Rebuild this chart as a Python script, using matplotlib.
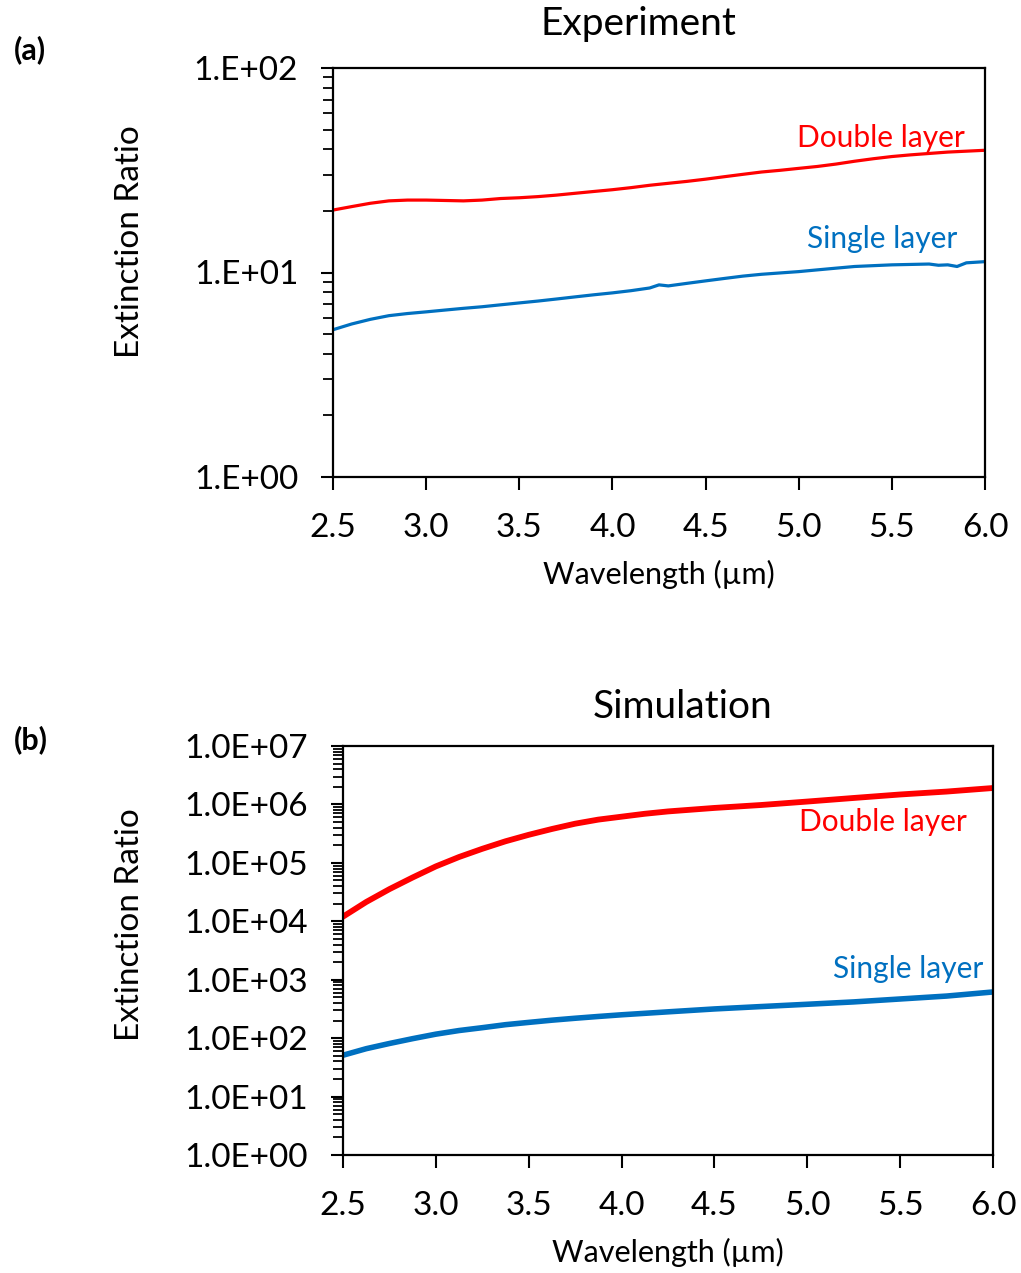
import numpy as np
import matplotlib
matplotlib.use("Agg")
import matplotlib.pyplot as plt
from matplotlib.ticker import LogLocator, FixedLocator, FuncFormatter, NullFormatter

plt.rcParams['font.family'] = ['Lato', 'DejaVu Sans']

RED = '#FF0000'
BLUE = '#0070C0'

# (a) measured extinction ratio
wl_exp = [2.5, 2.6, 2.7, 2.8, 2.9, 3.0, 3.1, 3.2, 3.3, 3.4, 3.5, 3.6, 3.7, 3.8, 3.9,
          4.0, 4.1, 4.2, 4.25, 4.3, 4.4, 4.5, 4.6, 4.7, 4.8, 4.9, 5.0, 5.1, 5.2, 5.3,
          5.4, 5.5, 5.6, 5.7, 5.75, 5.8, 5.85, 5.9, 6.0]
double_exp = [20.2, 21.0, 21.8, 22.4, 22.6, 22.6, 22.5, 22.4, 22.6, 23.0, 23.2, 23.5, 23.9, 24.4, 24.9,
              25.4, 26.0, 26.7, 27.0, 27.3, 27.9, 28.6, 29.4, 30.2, 31.0, 31.6, 32.3, 33.0, 33.9, 35.0,
              36.0, 36.9, 37.6, 38.2, 38.5, 38.8, 39.0, 39.2, 39.6]
single_exp = [5.25, 5.6, 5.9, 6.15, 6.3, 6.42, 6.55, 6.68, 6.8, 6.95, 7.1, 7.25, 7.42, 7.6, 7.78,
              7.95, 8.15, 8.4, 8.7, 8.6, 8.85, 9.1, 9.35, 9.6, 9.8, 9.95, 10.1, 10.3, 10.5, 10.7,
              10.8, 10.9, 10.95, 11.0, 10.85, 10.9, 10.7, 11.15, 11.3]

# (b) simulated extinction ratio
wl_sim = [2.5, 2.625, 2.75, 2.875, 3.0, 3.125, 3.25, 3.375, 3.5, 3.625, 3.75, 3.875,
          4.0, 4.125, 4.25, 4.5, 4.75, 5.0, 5.25, 5.5, 5.75, 6.0]
double_sim = [1.2e4, 2.14e4, 3.55e4, 5.62e4, 8.7e4, 1.26e5, 1.74e5, 2.34e5, 3.02e5, 3.8e5,
              4.68e5, 5.5e5, 6.17e5, 6.92e5, 7.59e5, 8.71e5, 9.77e5, 1.12e6, 1.29e6, 1.48e6,
              1.66e6, 1.91e6]
single_sim = [51, 66, 81, 98, 117, 135, 151, 170, 186, 203, 219, 235, 251, 266, 282, 316,
              347, 380, 417, 468, 525, 617]

xticks = [2.5, 3.0, 3.5, 4.0, 4.5, 5.0, 5.5, 6.0]

fig = plt.figure(figsize=(10.21, 12.73), dpi=100)
ax1 = fig.add_axes([333 / 1021, 1 - 477 / 1273, 652 / 1021, 409 / 1273])
ax2 = fig.add_axes([343 / 1021, 1 - 1155 / 1273, 650 / 1021, 409 / 1273])


def style(ax, ymin, ymax, fmt):
    ax.set_yscale('log')
    ax.set_xlim(2.5, 6.0)
    ax.set_ylim(ymin, ymax)
    ax.xaxis.set_major_locator(FixedLocator(xticks))
    ax.xaxis.set_major_formatter(FuncFormatter(lambda v, p: f"{v:.1f}"))
    ax.yaxis.set_major_locator(LogLocator(base=10, numticks=20))
    ax.yaxis.set_minor_locator(LogLocator(base=10, subs=np.arange(2, 10), numticks=20))
    ax.yaxis.set_major_formatter(FuncFormatter(fmt))
    ax.yaxis.set_minor_formatter(NullFormatter())
    ax.tick_params(axis='x', direction='out', length=9, width=1.5, labelsize=24, pad=17)
    ax.tick_params(axis='y', which='major', direction='out', length=9, width=1.5,
                   labelsize=24, pad=16)
    ax.tick_params(axis='y', which='minor', direction='out', length=7, width=1.3)
    for s in ax.spines.values():
        s.set_linewidth(1.6)
    ax.set_xlabel('Wavelength (µm)', fontsize=22, labelpad=12)


style(ax1, 1, 100, lambda v, p: "1.E+{:02d}".format(int(round(np.log10(v)))))
style(ax2, 1, 1e7, lambda v, p: "1.0E+{:02d}".format(int(round(np.log10(v)))))

ax1.plot(wl_exp, double_exp, color=RED, lw=2.3)
ax1.plot(wl_exp, single_exp, color=BLUE, lw=2.3)
ax1.text(5.89, 45.5, 'Double layer', color=RED, fontsize=21.5, ha='right', va='center')
ax1.text(5.85, 14.6, 'Single layer', color=BLUE, fontsize=21.5, ha='right', va='center')

ax2.plot(wl_sim, double_sim, color=RED, lw=4.2)
ax2.plot(wl_sim, single_sim, color=BLUE, lw=4.0)
ax2.text(5.86, 5.0e5, 'Double layer', color=RED, fontsize=21.5, ha='right', va='center')
ax2.text(5.95, 1525, 'Single layer', color=BLUE, fontsize=21.5, ha='right', va='center')

fig.text(130 / 1021, 1 - 242 / 1273, 'Extinction Ratio', fontsize=24, rotation=90,
         ha='center', va='center')
fig.text(130 / 1021, 1 - 925 / 1273, 'Extinction Ratio', fontsize=24, rotation=90,
         ha='center', va='center')

fig.text(638 / 1021, 1 - 24 / 1273, 'Experiment', fontsize=28, ha='center', va='center')
fig.text(683 / 1021, 1 - 707 / 1273, 'Simulation', fontsize=28, ha='center', va='center')

fig.text(14 / 1021, 1 - 50 / 1273, '(a)', fontsize=22, fontweight='bold', ha='left', va='center')
fig.text(14 / 1021, 1 - 740 / 1273, '(b)', fontsize=22, fontweight='bold', ha='left', va='center')

fig.savefig('out.png', dpi=100, facecolor='white')
